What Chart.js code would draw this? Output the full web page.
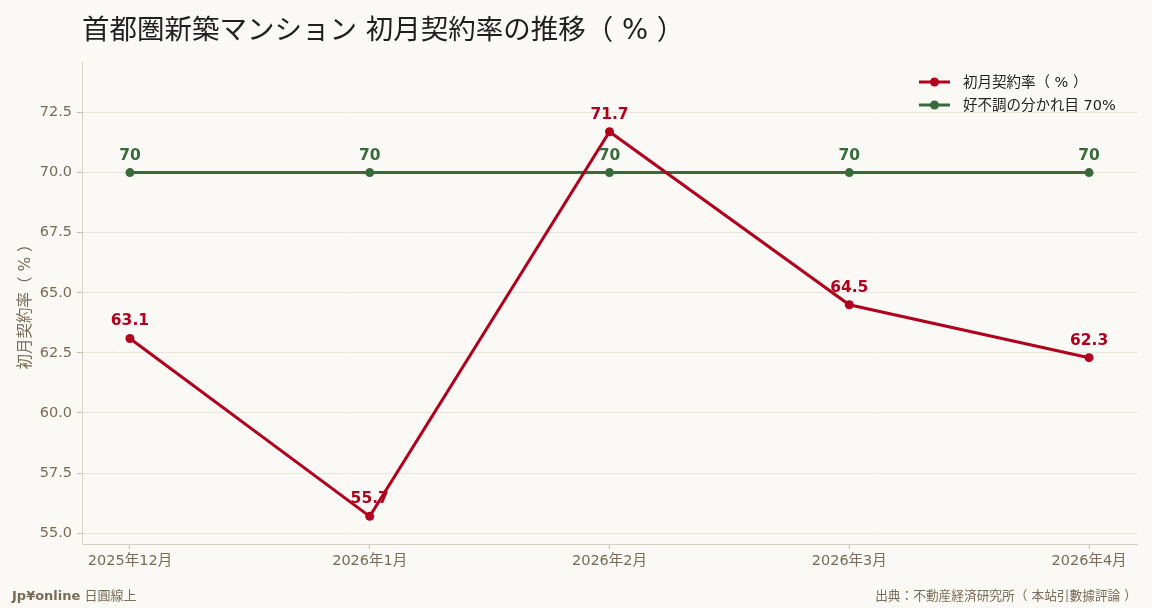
<!DOCTYPE html>
<html lang="ja">
<head>
  <meta charset="UTF-8">
  <title>首都圏新築マンション 初月契約率の推移（ % ）</title>
  <script src="https://cdn.jsdelivr.net/npm/chart.js"></script>
  <style>
    html, body {
      margin: 0;
      padding: 0;
      background: #faf9f5;
      width: 1152px;
      height: 608px;
      overflow: hidden;
      font-family: "DejaVu Sans", "Noto Sans CJK TC", sans-serif;
    }
    #wrap {
      position: relative;
      width: 1152px;
      height: 608px;
    }
    #titulo {
      position: absolute;
      left: 82px;
      top: 7px;
      font-family: "DejaVu Sans", "Noto Sans CJK TC", sans-serif;
      font-size: 27.5px;
      color: #1f1f1f;
      white-space: pre;
    }
    .pie {
      position: absolute;
      top: 585px;
      font-size: 13px;
      color: #7a6b56;
      white-space: pre;
    }
    #pieIzq { left: 12px; }
    #pieIzq b { font-weight: bold; }
    #pieDer { right: 15px; font-size: 12.7px; }
    canvas { position: absolute; left: 0; top: 0; }
  </style>
</head>
<body>
  <div id="wrap">
    <canvas id="grafica" width="1152" height="608"></canvas>
    <div id="titulo">首都圏新築マンション 初月契約率の推移（ % ）</div>
    <div class="pie" id="pieIzq"><b>Jp¥online</b> 日圓線上</div>
    <div class="pie" id="pieDer">出典：不動産経済研究所（ 本站引數據評論 ）</div>
  </div>

  <script>
    // datos
    const meses = ["2025年12月", "2026年1月", "2026年2月", "2026年3月", "2026年4月"];
    const tasaContrato = [63.1, 55.7, 71.7, 64.5, 62.3];
    const lineaCorte = [70, 70, 70, 70, 70];
    const ticksY = [55.0, 57.5, 60.0, 62.5, 65.0, 67.5, 70.0, 72.5];

    const ROJO = "#b0001e";
    const VERDE = "#386b3a";
    const TEXTO_EJE = "#7a6b56";
    const FUENTE = "'DejaVu Sans', 'Noto Sans CJK TC', sans-serif";

    // etiquetas de valor encima de cada punto
    const etiquetas = {
      id: "etiquetas",
      afterDatasetsDraw(chart) {
        const ctx = chart.ctx;
        ctx.save();
        ctx.font = "bold 15.5px " + FUENTE;
        ctx.textAlign = "center";
        ctx.textBaseline = "middle";
        for (let d = chart.data.datasets.length - 1; d >= 0; d--) {
          const ds = chart.data.datasets[d];
          const meta = chart.getDatasetMeta(d);
          ctx.fillStyle = ds.borderColor;
          meta.data.forEach((pt, i) => {
            const v = ds.data[i].y;
            const txt = Number.isInteger(v) ? String(v) : v.toFixed(1);
            ctx.fillText(txt, pt.x, pt.y - 17);
          });
        }
        ctx.restore();
      }
    };

    // leyenda dentro del area, arriba a la derecha
    const leyenda = {
      id: "leyendaDentro",
      afterDraw(chart) {
        const ctx = chart.ctx;
        const x0 = 919, y0 = 82, paso = 23;
        ctx.save();
        ctx.font = "14.5px " + FUENTE;
        ctx.textBaseline = "middle";
        chart.data.datasets.forEach((ds, i) => {
          const y = y0 + i * paso;
          ctx.strokeStyle = ds.borderColor;
          ctx.lineWidth = 3;
          ctx.beginPath();
          ctx.moveTo(x0, y);
          ctx.lineTo(x0 + 31, y);
          ctx.stroke();
          ctx.fillStyle = ds.borderColor;
          ctx.beginPath();
          ctx.arc(x0 + 15.5, y, 4.5, 0, Math.PI * 2);
          ctx.fill();
          ctx.fillStyle = "#222";
          ctx.fillText(ds.label, x0 + 44, y + 1);
        });
        ctx.restore();
      }
    };

    function graficar() {
      const ctx = document.getElementById("grafica").getContext("2d");
      new Chart(ctx, {
        type: "line",
        data: {
          datasets: [
            {
              label: "初月契約率（ % ）",
              data: tasaContrato.map((v, i) => ({ x: i, y: v })),
              borderColor: ROJO,
              backgroundColor: ROJO,
              borderWidth: 3,
              pointRadius: 4.5,
              pointHoverRadius: 4.5,
              pointBorderWidth: 0,
              tension: 0
            },
            {
              label: "好不調の分かれ目 70%",
              data: lineaCorte.map((v, i) => ({ x: i, y: v })),
              borderColor: VERDE,
              backgroundColor: VERDE,
              borderWidth: 3,
              pointRadius: 4.5,
              pointHoverRadius: 4.5,
              pointBorderWidth: 0,
              tension: 0
            }
          ]
        },
        options: {
          responsive: false,
          animation: false,
          layout: { padding: { left: 0, top: 62, right: 15, bottom: 0 } },
          plugins: {
            legend: { display: false },
            tooltip: { enabled: false },
            title: { display: false }
          },
          scales: {
            x: {
              type: "linear",
              min: -0.2,
              max: 4.2,
              afterBuildTicks: (s) => { s.ticks = meses.map((m, i) => ({ value: i })); },
              afterFit: (s) => { s.height = 64; },
              ticks: {
                callback: (v) => meses[v],
                color: TEXTO_EJE,
                font: { family: FUENTE, size: 14.5 },
                padding: 4,
                maxRotation: 0,
                autoSkip: false
              },
              grid: {
                drawOnChartArea: false,
                tickLength: 5,
                tickColor: "#c9bfae",
                tickWidth: 1
              },
              border: { color: "#d9d1c2", width: 1 }
            },
            y: {
              min: 54.55,
              max: 74.6,
              afterBuildTicks: (s) => { s.ticks = ticksY.map(v => ({ value: v })); },
              afterFit: (s) => { s.width = 82; },
              ticks: {
                callback: (v) => v.toFixed(1),
                color: TEXTO_EJE,
                font: { family: FUENTE, size: 14.5 },
                padding: 5
              },
              grid: {
                color: "#e9e5db",
                lineWidth: 1,
                tickLength: 5,
                tickColor: "#c9bfae"
              },
              border: { color: "#d9d1c2", width: 1 },
              title: {
                display: true,
                text: "初月契約率（ % ）",
                color: TEXTO_EJE,
                font: { family: FUENTE, size: 15.5 },
                padding: { top: 17, bottom: 0 }
              }
            }
          }
        },
        plugins: [etiquetas, leyenda]
      });
    }

    window.onload = graficar;
  </script>
</body>
</html>
